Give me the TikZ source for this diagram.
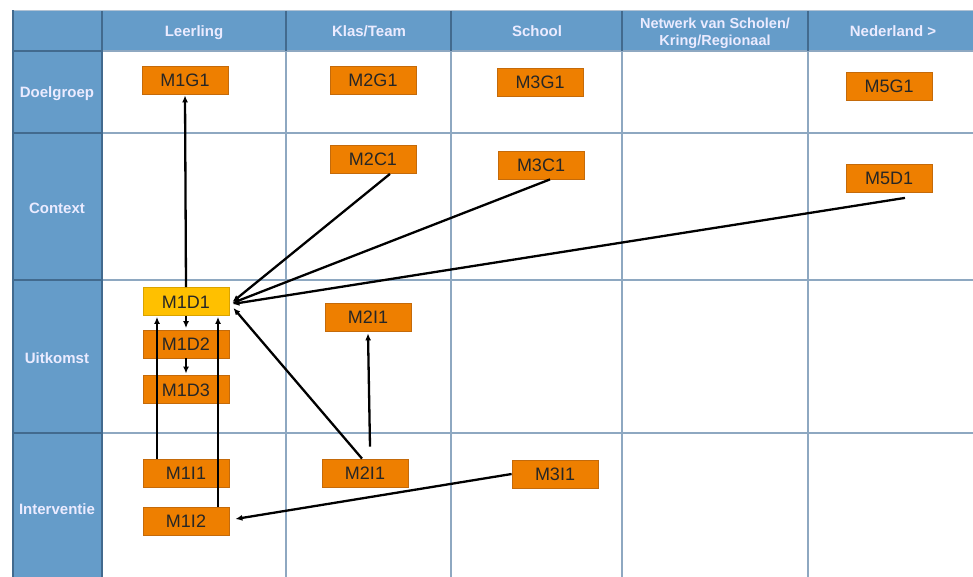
\documentclass[tikz,border=0pt]{standalone}
\usepackage{fontspec}
\setmainfont{Liberation Sans}
\usetikzlibrary{arrows.meta,calc}
\definecolor{hdr}{HTML}{659CC9}
\definecolor{hdrline}{HTML}{426A8E}
\definecolor{gridl}{HTML}{8EA8C1}
\definecolor{org}{HTML}{EE7F00}
\definecolor{orgb}{HTML}{C46A0A}
\definecolor{yel}{HTML}{FFC000}
\definecolor{yelb}{HTML}{D9A300}
\tikzset{
  mbox/.style={draw=orgb, fill=org, line width=0.8pt, minimum width=86pt, minimum height=28pt, inner sep=0pt,
    font=\fontsize{18}{20}\selectfont, text=black!85, text height=13pt, text depth=0pt},
  ybox/.style={mbox, draw=yelb, fill=yel},
  hlabel/.style={font=\fontsize{15}{18}\selectfont\bfseries, text=white!92!blue, align=center, text height=11pt, text depth=3pt},
  netlabel/.style={font=\fontsize{14.5}{17}\selectfont\bfseries, text=white!92!blue, align=center, inner sep=0pt},
  arr/.style={-{Latex[length=7pt,width=6pt]}, line width=2.3pt, black},
  darkl/.style={draw=hdrline, line width=1.5pt},
  lightl/.style={draw=gridl, line width=1.5pt}
}
\begin{document}
\begin{tikzpicture}[x=1pt,y=-1pt]
\useasboundingbox (0,0) rectangle (973,577);
% backgrounds
\fill[hdr] (13,11) rectangle (980,51);
\fill[hdr] (13,51) rectangle (102,590);
% light grid lines in white area
\foreach \yy in {51,133,280,433} \draw[lightl] (102,\yy) -- (980,\yy);
\foreach \xx in {286,451,622,808} \draw[lightl] (\xx,51) -- (\xx,590);
% dark lines in header areas
\draw[draw=gridl!70, line width=1pt] (13,10.5) -- (980,10.5);
\draw[darkl] (13,10.5) -- (13,590);
\draw[darkl] (102,11) -- (102,590);
\foreach \yy in {51,133,280,433} \draw[darkl] (13,\yy) -- (102,\yy);
\foreach \xx in {286,451,622,808} \draw[darkl] (\xx,11) -- (\xx,51);
% header labels
\node[hlabel] (hLeer) at (194,33) {Leerling};
\node[hlabel] (hKlas) at (369,33) {Klas/Team};
\node[hlabel] (hSchool) at (537,33) {School};
\node[netlabel] (hNet) at (715,33) {Netwerk van Scholen/\\Kring/Regionaal};
\node[hlabel] (hNed) at (893,33) {Nederland >};
\node[hlabel] (rDoel) at (57,94) {Doelgroep};
\node[hlabel] (rCont) at (57,210) {Context};
\node[hlabel] (rUit) at (57,359) {Uitkomst};
\node[hlabel] (rInt) at (57,510) {Interventie};
% boxes
\node[mbox] (m1g1) at (185,80) {M1G1};
\node[mbox] (m2g1) at (373,80) {M2G1};
\node[mbox] (m3g1) at (540,82.5) {M3G1};
\node[mbox] (m5g1) at (889,86.5) {M5G1};
\node[mbox] (m2c1) at (373,159.5) {M2C1};
\node[mbox] (m3c1) at (541,165) {M3C1};
\node[mbox] (m5d1) at (889,178.5) {M5D1};
\node[ybox] (m1d1) at (186,301.5) {M1D1};
\node[mbox] (m1d2) at (186,344) {M1D2};
\node[mbox] (m1d3) at (186,389.5) {M1D3};
\node[mbox] (m2i1a) at (368,317) {M2I1};
\node[mbox] (m1i1) at (186,473) {M1I1};
\node[mbox] (m2i1b) at (365,473) {M2I1};
\node[mbox] (m3i1) at (555,474) {M3I1};
\node[mbox] (m1i2) at (186,521) {M1I2};
% connectors
\draw[arr] (m1d1.north) -- ([yshift=-1pt]m1g1.south);
\draw[arr] (m1d1.south) -- ([yshift=1.5pt]m1d2.north);
\draw[arr] (m1d2.south) -- ([yshift=1.5pt]m1d3.north);
\draw[arr] ([xshift=-29pt]m1i1.north) -- ([xshift=-29pt,yshift=-1pt]m1d1.south);
\draw[arr] ([xshift=32pt]m1i2.north) -- ([xshift=32pt,yshift=-1pt]m1d1.south);
\draw[arr] ([xshift=17pt]m2c1.south) -- ([xshift=3pt,yshift=-0.5pt]m1d1.east);
\draw[arr] ([xshift=9pt]m3c1.south) -- ([xshift=3pt,yshift=-1.5pt]m1d1.east);
\draw[arr] ([xshift=16pt,yshift=-5pt]m5d1.south) -- ([xshift=3pt,yshift=-2.5pt]m1d1.east);
\draw[arr] ([xshift=-3pt]m2i1b.north) -- ([xshift=4pt,yshift=-6.5pt]m1d1.east);
\draw[arr] ([xshift=5pt,yshift=12pt]m2i1b.north) -- ([yshift=-2pt]m2i1a.south);
\draw[arr] (m3i1.west) -- ([xshift=6pt,yshift=2pt]m1i2.east);
\end{tikzpicture}
\end{document}
